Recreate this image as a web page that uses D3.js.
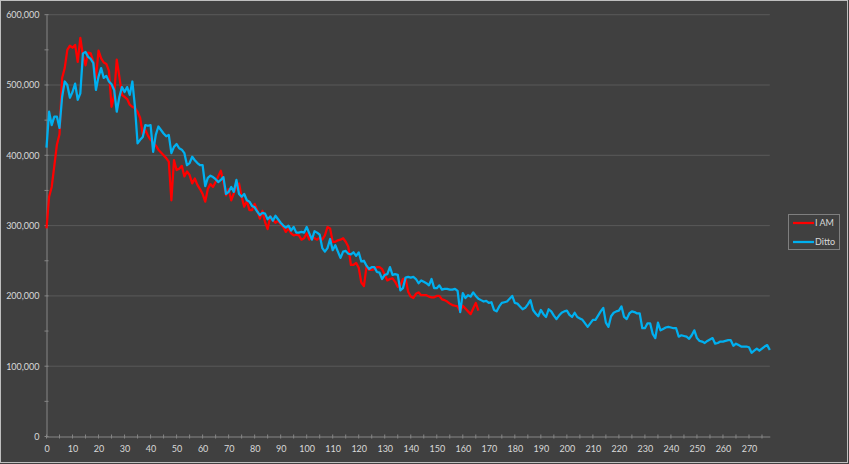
<!DOCTYPE html>
<html>
<head>
<meta charset="utf-8">
<script src="https://cdn.jsdelivr.net/npm/d3@7"></script>
<style>
  body { margin: 0; background: #404040; }
  text { font-family: Lato, "Open Sans", sans-serif; }
</style>
</head>
<body>
<div id="graph"></div>
<script>
// series names
var seriesNames = ["I AM", "Ditto"];
// values in thousands, index = x position
var iamValues = [296,341,355,385,415,430,510,524,550,556,553,557,533,567,542,528,546,545,533,510,
    549,538,532,530,520,469,485,536,512,486,483,480,472,469,467,462,453,430,436,428,
    422,418,414,408,404,400,396,391,336,393,379,381,385,370,377,372,360,367,358,352,
    345,334,352,359,355,362,370,378,362,343,352,336,346,355,360,341,327,335,322,322,
    331,322,310,321,305,295,313,308,304,307,302,298,291,296,289,286,287,286,280,282,
    289,280,285,282,280,283,280,286,298,296,277,277,279,280,282,277,270,244,244,247,
    240,219,214,242,237,237,238,241,241,238,230,222,224,225,220,213,215,224,225,206,
    199,197,203,205,201,201,201,199,198,198,200,200,195,194,192,189,187,186,185,178,
    186,182,178,174,182,190,179];
var dittoValues = [411,462,443,455,455,439,483,505,500,482,490,502,479,488,545,547,540,537,531,493,
    512,524,510,513,505,501,493,462,483,497,490,497,486,505,469,417,422,426,443,442,
    443,405,429,441,436,431,427,429,403,412,416,410,408,403,386,389,398,393,389,386,
    386,356,368,371,369,366,362,365,369,345,348,355,348,365,345,341,345,336,334,328,
    326,320,315,318,317,309,313,307,314,309,304,300,297,300,293,298,290,290,291,290,
    298,289,280,292,290,287,268,263,268,281,265,272,263,254,263,264,260,259,262,257,
    262,249,250,243,238,241,241,234,233,224,230,231,241,230,231,230,208,211,226,227,
    226,227,224,218,222,220,218,215,224,211,211,215,209,210,210,209,209,210,207,177,
    204,197,201,199,205,200,196,194,192,193,190,191,180,178,185,190,191,192,196,200,
    190,189,185,181,183,188,194,180,175,171,180,174,170,181,178,172,167,172,176,178,
    179,173,170,176,170,168,166,161,156,161,166,166,172,178,183,162,156,171,176,178,
    179,185,170,167,175,178,177,175,175,154,154,161,161,146,140,162,151,153,155,156,
    155,154,154,142,144,143,142,139,144,151,140,136,135,133,136,138,140,132,133,135,
    135,136,137,137,129,132,130,128,128,128,127,119,122,125,122,125,128,130,123];
var seriesColors = ["#ff0000", "#00b0f0"];
// axis ticks
var xLabelTicks = d3.range(0, 271, 10);
var xMinorTicks = d3.range(0, 276, 5);
var yTicks = [0, 100000, 200000, 300000, 400000, 500000, 600000];
var yMinorTicks = d3.range(0, 600001, 50000);

var W = 849, H = 464;
var svg = d3.select("#graph")
    .append("svg")
    .attr("width", W)
    .attr("height", H);

// chart area
svg.append("rect")
    .attr("x", 0.5).attr("y", 0.5)
    .attr("width", W - 2).attr("height", H - 2)
    .attr("fill", "#404040")
    .attr("stroke", "#bfbfbf");

var x = d3.scaleLinear()
    .domain([0, 278])
    .range([46.5, 769.8]);
var y = d3.scaleLinear()
    .domain([0, 600000])
    .range([436.5, 14.7]);

// gridlines
svg.append("g")
    .selectAll("line")
    .data(yTicks.slice(1))
    .enter()
    .append("line")
    .attr("x1", x(0)).attr("x2", x(278))
    .attr("y1", function (d) { return y(d) }).attr("y2", function (d) { return y(d) })
    .attr("stroke", "#595959")
    .attr("stroke-width", 1);

// Y axis
var yAxis = svg.append("g")
    .attr("transform", "translate(" + x(0) + ",0)")
    .call(d3.axisLeft(y).tickValues(yTicks).tickSize(0).tickPadding(7)
        .tickFormat(d3.format(",")));
yAxis.select(".domain").attr("stroke", "#868686");
yAxis.selectAll("text").attr("fill", "#d9d9d9").attr("font-size", "9px");
svg.append("g")
    .selectAll("line")
    .data(yMinorTicks)
    .enter()
    .append("line")
    .attr("x1", x(0) - 2).attr("x2", x(0) + 2)
    .attr("y1", function (d) { return y(d) }).attr("y2", function (d) { return y(d) })
    .attr("stroke", "#868686");

// X axis
var xAxis = svg.append("g")
    .attr("transform", "translate(0," + y(0) + ")")
    .call(d3.axisBottom(x).tickValues(xLabelTicks).tickSize(0).tickPadding(9)
        .tickFormat(d3.format("d")));
xAxis.select(".domain").attr("stroke", "#868686");
xAxis.selectAll("text").attr("fill", "#d9d9d9").attr("font-size", "9px");
svg.append("g")
    .selectAll("line")
    .data(xMinorTicks)
    .enter()
    .append("line")
    .attr("x1", function (d) { return x(d) }).attr("x2", function (d) { return x(d) })
    .attr("y1", y(0) - 2).attr("y2", y(0) + 2)
    .attr("stroke", "#868686");

// lines
var line = d3.line()
    .x(function (d, i) { return x(i) })
    .y(function (d) { return y(d * 1000) });
[iamValues, dittoValues].forEach(function (vals, k) {
    svg.append("path")
        .datum(vals)
        .attr("fill", "none")
        .attr("stroke", seriesColors[k])
        .attr("stroke-width", 2.25)
        .attr("stroke-linejoin", "round")
        .attr("d", line);
});

// legend
var lg = svg.append("g");
lg.append("rect")
    .attr("x", 788.5).attr("y", 214.5)
    .attr("width", 51).attr("height", 35)
    .attr("fill", "#404040")
    .attr("stroke", "#7f7f7f");
seriesNames.forEach(function (name, k) {
    var ly = 223 + k * 19;
    lg.append("line")
        .attr("x1", 793).attr("x2", 814)
        .attr("y1", ly).attr("y2", ly)
        .attr("stroke", seriesColors[k])
        .attr("stroke-width", 2.25);
    lg.append("text")
        .attr("x", 815).attr("y", ly + 3)
        .attr("fill", "#d9d9d9")
        .attr("font-size", "9px")
        .text(name);
});
</script>
</body>
</html>
